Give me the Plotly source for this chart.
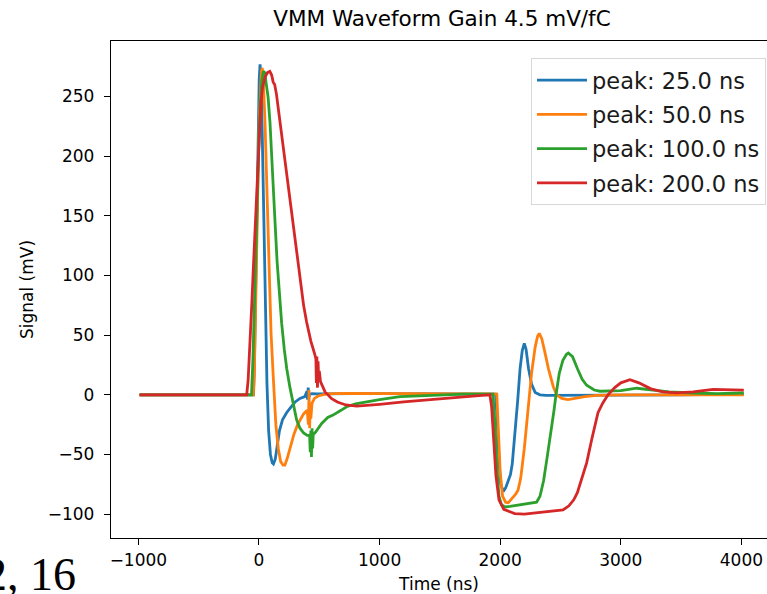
import plotly.graph_objects as go

# ---- data ----
series_names = ["peak: 25.0 ns", "peak: 50.0 ns", "peak: 100.0 ns", "peak: 200.0 ns"]
series_colors = ["#1f77b4", "#ff7f0e", "#2ca02c", "#d62728"]

t_25 = [-990, -45, -38, -30, -22, -14, -6, 2, 9, 16, 26, 38, 52, 66, 80, 95, 110, 120, 135,
        150, 170, 195, 229, 260, 300, 340, 380, 398, 403, 408, 414, 422, 440, 480, 600, 800,
        1000, 1400, 1800, 1962, 1975, 1990, 2005, 2026, 2045, 2065, 2085, 2100, 2120, 2145,
        2165, 2183, 2200, 2215, 2235, 2260, 2290, 2330, 2380, 2500, 3000, 3500, 4020]
v_25 = [0, 0, 25, 70, 125, 180, 230, 265, 277, 268, 225, 155, 70, 10, -30, -50, -57, -58, -54,
        -44, -30, -21, -15, -11, -6, -3, -1.5, 3, -4, 6, -2, 0.5, 1, 0.8, 1, 1,
        1, 0.8, 0.5, 0.5, -20, -55, -75, -81, -78, -73, -67, -58, -36, -5,
        22, 37, 43, 38, 22, 9, 2, 0, -0.5, -0.5, 0, 0, 0.5]

t_50 = [-990, -47, -38, -28, -18, -8, 2, 12, 20, 27, 35, 50, 65, 80, 100, 120, 140, 160, 180,
        200, 215, 235, 260, 290, 320, 340, 370, 400, 410, 415, 420, 425, 430, 440, 460, 490,
        520, 560, 700, 1000, 1500, 1900, 1972, 1985, 2000, 2020, 2045, 2067, 2100, 2130, 2148,
        2170, 2200, 2230, 2260, 2290, 2310, 2324, 2345, 2370, 2400, 2440, 2468, 2510, 2562,
        2620, 2700, 2800, 3000, 3500, 4020]
v_50 = [0, 0, 20, 65, 120, 180, 230, 262, 271, 274, 266, 228, 172, 112, 52, 12, -25, -45, -56,
        -59, -59, -53, -44, -33, -25, -21, -16, -13, -25, 4, -28, -8, -20, -7, -3, -1,
        0, 0.8, 1.2, 1.2, 1, 0.8, 0.5, -30, -65, -85, -90, -90.5, -87, -83, -80,
        -70, -45, -12, 18, 40, 49, 51.5, 47, 36, 22, 7, 0, -3, -4,
        -3, -1.5, -0.5, 0, 0, 0]

t_100 = [-990, -62, -50, -40, -30, -20, -10, 0, 12, 24, 36, 48, 58, 66, 75, 91, 110, 133, 150,
         170, 188, 210, 230, 257, 280, 312, 340, 370, 400, 420, 425, 430, 435, 440, 445, 450,
         464, 490, 520, 570, 614, 680, 727, 800, 900, 1000, 1169, 1400, 1700, 1940, 1957,
         1972, 1990, 2010, 2040, 2081, 2150, 2230, 2302, 2330, 2360, 2390, 2427, 2445, 2463,
         2490, 2520, 2550, 2565, 2600, 2640, 2680, 2717, 2780, 2828, 2900, 3000, 3132, 3250,
         3400, 3600, 3800, 4020]
v_100 = [0, 0, 30, 70, 108, 145, 182, 215, 245, 263, 271, 270, 262, 256, 250, 229, 195, 145, 112,
         80, 60, 38, 22, 6, -6, -21, -28, -32, -34, -34, -48, -30, -52, -28, -45, -33,
         -32, -28, -24, -19, -17, -13, -10, -7.5, -5.5, -4, -1.5, -0.5, 0.5, 0.5, -25,
         -60, -85, -92, -94, -93.5, -92.5, -91.5, -90, -85, -72, -52, -29, -14, 0,
         18, 29, 34, 35, 32, 22, 13, 8, 4, 3, 3, 3.5, 5.5, 4,
         2.5, 1.5, 1, 1.5]

t_200 = [-990, -102, -90, -75, -60, -45, -28, -15, 0, 15, 30, 50, 70, 90, 105, 118, 130, 145,
         160, 174, 200, 225, 243, 270, 312, 340, 370, 395, 430, 464, 472, 476, 480, 485, 490,
         495, 500, 510, 530, 550, 572, 600, 650, 720, 810, 900, 1000, 1200, 1400, 1600, 1722,
         1850, 1915, 1929, 1945, 1965, 1990, 2030, 2081, 2120, 2200, 2300, 2400, 2470, 2521,
         2570, 2610, 2640, 2680, 2717, 2760, 2811, 2850, 2894, 2950, 3000, 3076, 3150, 3250,
         3350, 3463, 3600, 3765, 3900, 4020]
v_200 = [0, 0, 12, 40, 75, 110, 145, 180, 215, 243, 258, 266, 270, 271, 268, 262, 260, 252,
         240, 229, 205, 185, 173, 150, 117, 95, 75, 61, 45, 33.5, 30, 10, 32, 6, 28,
         12, 20, 11, 6, 2, 0, -3, -6, -8.5, -9.5, -9, -8, -6, -4.5, -3, -1.5,
         -0.5, 0, -10, -40, -68, -88, -96, -98, -99.5, -100, -99, -98, -97, -96.5,
         -93, -88, -82, -70, -57, -37, -15, -7, 0, 6, 10, 12.6, 10, 5,
         2.5, 1.7, 2.5, 4.5, 4.5, 4]

series_t = [t_25, t_50, t_100, t_200]
series_v = [v_25, v_50, v_100, v_200]

x_ticks = [-1000, 0, 1000, 2000, 3000, 4000]
y_ticks = [-100, -50, 0, 50, 100, 150, 200, 250]

W, H = 767, 594
ML, MT, MB = 111, 41, 56
plot_w = W - ML
plot_h = H - MT - MB

fig = go.Figure()
for i in range(4):
    fig.add_trace(go.Scatter(
        x=series_t[i], y=series_v[i], mode="lines", name=series_names[i],
        line=dict(color=series_colors[i], width=2.8),
        legendgroup=f"g{i}",
    ))

font_family = "DejaVu Sans"
fig.update_layout(
    width=W, height=H,
    margin=dict(l=ML, r=0, t=MT, b=MB, pad=0),
    paper_bgcolor="white", plot_bgcolor="white",
    font=dict(family=font_family, color="black", size=17),
    title=dict(text="VMM Waveform Gain 4.5 mV/fC", x=(ML + 331) / W, xanchor="center",
               y=1 - 18 / H, yanchor="middle", yref="container",
               font=dict(size=21.5, family=font_family, color="black")),
    showlegend=True,
    legend=dict(
        x=(766 - ML) / plot_w, xanchor="right", y=(H - MB - 58) / plot_h, yanchor="top",
        bgcolor="white", bordercolor="#d8d8d8", borderwidth=1,
        font=dict(size=22.5, family=font_family, color="#1a1a1a"),
        tracegroupgap=2, itemwidth=50,
    ),
    xaxis=dict(
        range=[-1227, -1227 + plot_w / 120.6 * 1000],
        tickmode="array", tickvals=x_ticks,
        showgrid=False, zeroline=False,
        showline=True, linecolor="black", linewidth=1.3, mirror=True,
        ticks="outside", ticklen=6, tickwidth=1.3, tickcolor="black",
        ticklabelstandoff=0,
        title=dict(text="Time (ns)", standoff=10, font=dict(size=17)),
    ),
    yaxis=dict(
        range=[-120, 296.5],
        tickmode="array", tickvals=y_ticks,
        showgrid=False, zeroline=False,
        showline=True, linecolor="black", linewidth=1.3, mirror=False,
        ticks="outside", ticklen=6, tickwidth=1.3, tickcolor="black",
        ticklabelstandoff=6,
        title=dict(text="Signal (mV)", standoff=9, font=dict(size=17)),
    ),
)

fig.add_annotation(
    text="2, 16", xref="paper", yref="paper",
    x=(-18 - ML) / plot_w, xanchor="left",
    y=(H - MB - 547) / plot_h, yanchor="top",
    showarrow=False,
    font=dict(family="Liberation Serif", size=46, color="black"),
)

fig.write_html("out.html")
